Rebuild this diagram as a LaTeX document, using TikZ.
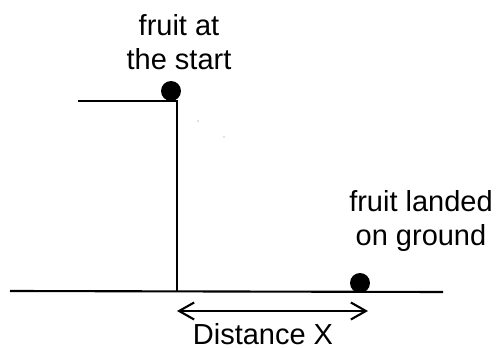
\documentclass[tikz,border=0pt]{standalone}
\usepackage{fontspec}
\setmainfont{Liberation Sans}
\usepackage{tikz}
\usetikzlibrary{arrows.meta, positioning, calc}

\tikzset{
  fruit/.style={circle, fill=black, inner sep=0pt, minimum size=0.4cm},
  label text/.style={align=center, font=\fontsize{16.5}{19}\selectfont},
  edge line/.style={line width=1.2pt}
}

\begin{document}
\begin{tikzpicture}[x=0.02cm, y=-0.02cm]
  \useasboundingbox (0,0) rectangle (501,348);
  % tree branch and trunk
  \coordinate (branch) at (78,101);
  \coordinate (corner) at (177,101);
  \coordinate (foot) at (177,291);
  \coordinate (groundL) at (10,291);
  \coordinate (groundR) at (443,292);
  \draw[edge line] (branch) -- (corner) -- (foot);
  \draw[edge line] (groundL) -- (groundR);

  \node[fruit] (start) at (171,91) {};
  \node[fruit] (landed) at (360,283) {};
  \node[label text] (startlbl) at (179,42) {fruit at\\the start};
  \node[label text] (landlbl) at (421,221) {fruit landed\\on ground};

  % faint path dots
  \fill[gray] (198,121) circle (0.7);
  \fill[gray] (224,137) circle (0.7);

  % distance arrow
  \coordinate (arrL) at (177,311);
  \coordinate (arrR) at (368,311);
  \draw[edge line, {Straight Barb[length=3mm,width=3.4mm]}-{Straight Barb[length=3mm,width=3.4mm]}] (arrL) -- (arrR);
  \node[label text] (dist) at (263,334) {Distance X};
\end{tikzpicture}
\end{document}
